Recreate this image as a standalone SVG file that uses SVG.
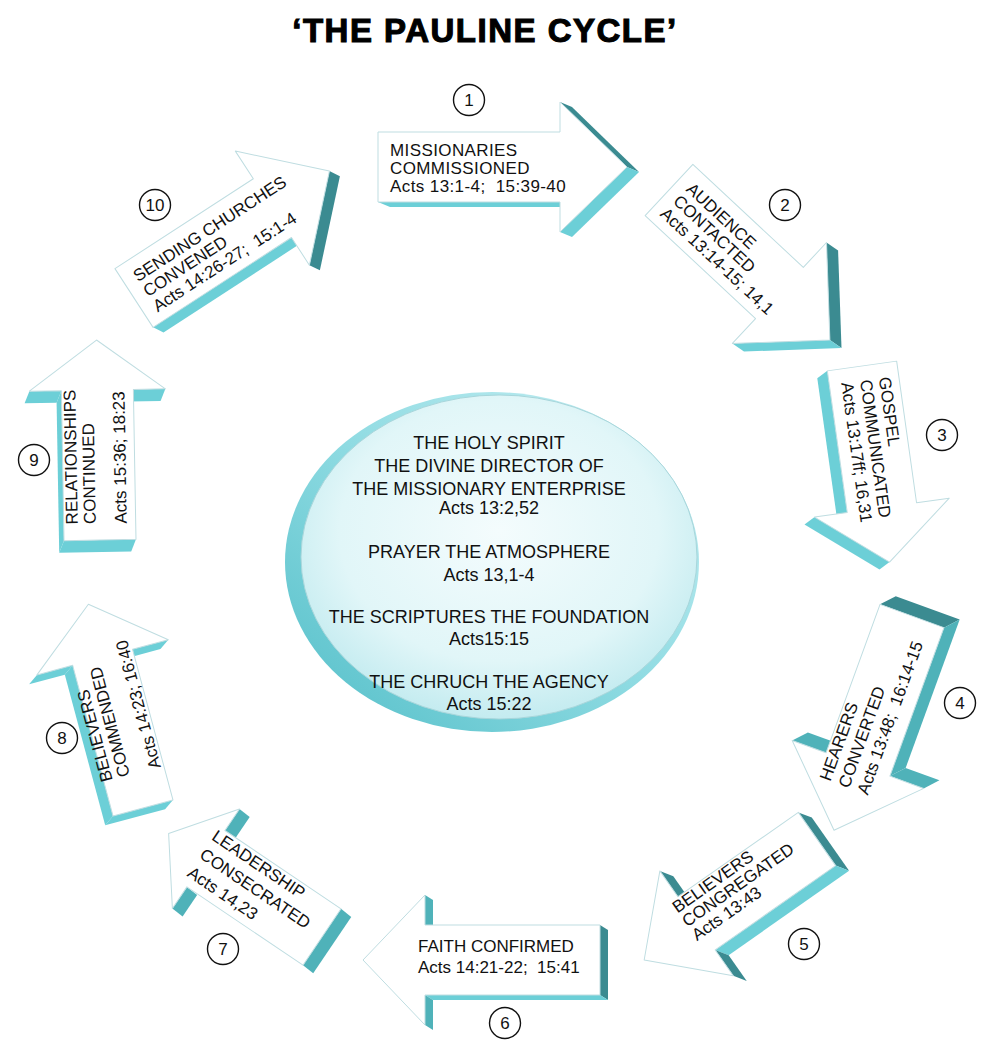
<svg xmlns="http://www.w3.org/2000/svg" width="981" height="1040" viewBox="0 0 981 1040">
<defs>
<linearGradient id="rim" x1="1" y1="0" x2="0" y2="1">
<stop offset="0" stop-color="#c9f0f4"/>
<stop offset="0.5" stop-color="#8fdbe2"/>
<stop offset="1" stop-color="#52bec8"/>
</linearGradient>
<radialGradient id="disc" cx="0.5" cy="0.42" r="0.62">
<stop offset="0" stop-color="#f4fcfd"/>
<stop offset="0.65" stop-color="#e1f6f8"/>
<stop offset="1" stop-color="#bde9ee"/>
</radialGradient>
</defs>
<style>
.face{fill:#ffffff;stroke:#bfdde1;stroke-width:1;stroke-linejoin:round}
.dk{fill:#3b8b91}
.md{fill:#4fb2b9}
.lt{fill:#6ccfd7}
.t{font-family:"Liberation Sans",Arial,sans-serif;font-size:17px;fill:#111}
.c{fill:#ffffff;stroke:#111;stroke-width:1.4}
.n{font-family:"Liberation Sans",Arial,sans-serif;font-size:17px;text-anchor:middle;fill:#111}
.ct{font-family:"Liberation Sans",Arial,sans-serif;font-size:18px;text-anchor:middle;fill:#111}
</style>
<rect width="981" height="1040" fill="#ffffff"/>
<text x="485" y="42" font-family="Liberation Sans, Arial, sans-serif" font-weight="bold" font-size="33" letter-spacing="1.5" text-anchor="middle" stroke="#000" stroke-width="1.1" fill="#000">‘THE PAULINE CYCLE’</text>

<g id="center">
<ellipse cx="492" cy="562" rx="207" ry="170" fill="url(#rim)"/>
<ellipse cx="499" cy="557" rx="198" ry="162" fill="url(#disc)" stroke="#a8d6db" stroke-width="1"/>
<text class="ct" x="489" y="449">THE HOLY SPIRIT</text>
<text class="ct" x="489" y="472">THE DIVINE DIRECTOR OF</text>
<text class="ct" x="489" y="495">THE MISSIONARY ENTERPRISE</text>
<text class="ct" x="489" y="514">Acts 13:2,52</text>
<text class="ct" x="489" y="558">PRAYER THE ATMOSPHERE</text>
<text class="ct" x="489" y="581">Acts 13,1-4</text>
<text class="ct" x="489" y="623">THE SCRIPTURES THE FOUNDATION</text>
<text class="ct" x="489" y="645">Acts15:15</text>
<text class="ct" x="489" y="688">THE CHRUCH THE AGENCY</text>
<text class="ct" x="489" y="710">Acts 15:22</text>
</g>

<g id="step1">
<g transform="translate(378,167)">
<polygon class="dk" points="182,-65 249,0 261,5 194,-60"/>
<polygon class="lt" points="249,0 182,65 194,70 261,5"/>
<polygon class="lt" points="182,35 0,35 12,40 194,40"/>
<polygon class="face" points="0,-35 182,-35 182,-65 249,0 182,65 182,35 0,35"/>
<text class="t" xml:space="preserve" letter-spacing="0.4"><tspan x="12" y="-11">MISSIONARIES</tspan><tspan x="12" y="7">COMMISSIONED</tspan><tspan x="12" y="25">Acts 13:1-4;  15:39-40</tspan></text>
</g>
<circle class="c" cx="469" cy="100" r="15.5"/><text class="n" x="469" y="106">1</text>
</g>

<g id="step2">
<g transform="translate(669,190) rotate(43)">
<polygon class="dk" points="151,-69 220,0 234,-2 165,-71"/>
<polygon class="lt" points="220,0 151,69 165,67 234,-2"/>
<polygon class="face" points="0,-35 151,-35 151,-69 220,0 151,69 151,35 0,35"/>
<text class="t"><tspan x="12" y="-11">AUDIENCE</tspan><tspan x="11" y="7">CONTACTED</tspan><tspan x="10" y="25">Acts 13:14-15; 14,1</tspan></text>
</g>
<circle class="c" cx="785" cy="205" r="15.5"/><text class="n" x="785" y="211">2</text>
</g>

<g id="step3">
<g transform="translate(862,366) rotate(82)">
<polygon class="lt" points="198,0 143,68 149,79 204,11"/>
<polygon class="lt" points="143,35 0,35 6,46 149,46"/>
<polygon class="face" points="0,-35 143,-35 143,-68 198,0 143,68 143,35 0,35"/>
<text class="t"><tspan x="14" y="-15">GOSPEL</tspan><tspan x="14" y="4">COMMUNICATED</tspan><tspan x="14" y="23">Acts 13:17ff; 16,31</tspan></text>
</g>
<circle class="c" cx="942" cy="435" r="15.5"/><text class="n" x="942" y="441">3</text>
</g>

<g id="step4">
<g transform="translate(912,616) rotate(110)">
<polygon class="dk" points="0,34 0,-34 -13,-46 -13,22"/>
<polygon class="md" points="0,-34 158,-34 145,-46 -13,-46"/>
<polygon class="md" points="158,-34 158,-70 145,-82 145,-46"/>
<polygon class="md" points="158,70 158,34 145,22 145,58"/>
<polygon class="face" points="0,-34 158,-34 158,-70 228,0 158,70 158,34 0,34"/>
<text class="t" transform="translate(184,20) rotate(180)" xml:space="preserve"><tspan x="0" y="0">HEARERS</tspan><tspan x="0" y="20">CONVERTED</tspan><tspan x="0" y="40">Acts 13:48;  16:14-15</tspan></text>
</g>
<circle class="c" cx="960" cy="703" r="15.5"/><text class="n" x="960" y="709">4</text>
</g>

<g id="step5">
<g transform="translate(817,839) rotate(145)">
<polygon class="dk" points="0,32.5 0,-32.5 -8,-44.5 -8,20.5"/>
<polygon class="lt" points="0,-32.5 147,-32.5 139,-44.5 -8,-44.5"/>
<polygon class="dk" points="147,-32.5 147,-64 139,-76 139,-44.5"/>
<polygon class="dk" points="147,64 147,32.5 139,20.5 139,52"/>
<polygon class="face" points="0,-32.5 147,-32.5 147,-64 211,0 147,64 147,32.5 0,32.5"/>
<text class="t" transform="translate(157,19) rotate(180)"><tspan x="0" y="0">BELIEVERS</tspan><tspan x="0" y="17">CONGREGATED</tspan><tspan x="0" y="34">Acts 13:43</tspan></text>
</g>
<circle class="c" cx="804" cy="944" r="15.5"/><text class="n" x="804" y="950">5</text>
</g>

<g id="step6">
<g transform="translate(600,960) rotate(180)">
<polygon class="dk" points="0,35 0,-35 -8,-40 -8,30"/>
<polygon class="lt" points="0,-35 175,-35 167,-40 -8,-40"/>
<polygon class="md" points="175,-35 175,-65 167,-70 167,-40"/>
<polygon class="md" points="175,65 175,35 167,30 167,60"/>
<polygon class="face" points="0,-35 175,-35 175,-65 237,0 175,65 175,35 0,35"/>
<text class="t" transform="translate(182,8) rotate(180)" xml:space="preserve" font-size="17.5"><tspan x="0" y="0">FAITH CONFIRMED</tspan><tspan x="0" y="21">Acts 14:21-22;  15:41</tspan></text>
</g>
<circle class="c" cx="505" cy="1023" r="15.5"/><text class="n" x="505" y="1029">6</text>
</g>

<g id="step7">
<g transform="translate(322,937) rotate(214)">
<polygon class="md" points="0,34 0,-34 -13,-35 -13,33"/>
<polygon class="md" points="140,-34 140,-60 127,-61 127,-35"/>
<polygon class="md" points="140,60 140,34 127,33 127,59"/>
<polygon class="face" points="0,-34 140,-34 140,-60 185,0 140,60 140,34 0,34"/>
<text class="t" transform="translate(147,19) rotate(180)"><tspan x="0" y="0">LEADERSHIP</tspan><tspan x="0" y="22">CONSECRATED</tspan><tspan x="0" y="44">Acts 14,23</tspan></text>
</g>
<circle class="c" cx="223" cy="949" r="15.5"/><text class="n" x="223" y="955">7</text>
</g>

<g id="step8">
<g transform="translate(143,808) rotate(-105)">
<polygon class="lt" points="0,31 0,-31 -7,-41 -7,21"/>
<polygon class="lt" points="0,-31 156,-31 149,-41 -7,-41"/>
<polygon class="lt" points="156,-31 156,-68 149,-78 149,-41"/>
<polygon class="lt" points="156,68 156,31 149,21 149,58"/>
<polygon class="face" points="0,-31 156,-31 156,-68 211,0 156,68 156,31 0,31"/>
<text class="t"><tspan x="35" y="-22">BELIEVERS</tspan><tspan x="35" y="-4">COMMENDED</tspan><tspan x="35" y="28">Acts 14:23; 16:40</tspan></text>
</g>
<circle class="c" cx="62" cy="738" r="15.5"/><text class="n" x="62" y="744">8</text>
</g>

<g id="step9">
<g transform="translate(100,540) rotate(-91)">
<polygon class="lt" points="0,36 0,-36 -12,-41 -12,31"/>
<polygon class="lt" points="0,-36 150,-36 138,-41 -12,-41"/>
<polygon class="lt" points="150,-36 150,-68 138,-73 138,-41"/>
<polygon class="lt" points="150,68 150,36 138,31 138,63"/>
<polygon class="face" points="0,-36 150,-36 150,-68 200,0 150,68 150,36 0,36"/>
<text class="t"><tspan x="16" y="-22">RELATIONSHIPS</tspan><tspan x="16" y="-4">CONTINUED</tspan><tspan x="16" y="27">Acts 15:36; 18:23</tspan></text>
</g>
<circle class="c" cx="34" cy="460" r="15.5"/><text class="n" x="34" y="466">9</text>
</g>

<g id="step10">
<g transform="translate(134,298) rotate(-33)">
<polygon class="dk" points="233,0 165,68 171,78 239,10"/>
<polygon class="lt" points="165,35 0,35 6,45 171,45"/>
<polygon class="face" points="0,-35 165,-35 165,-68 233,0 165,68 165,35 0,35"/>
<text class="t" xml:space="preserve"><tspan x="12" y="-11">SENDING CHURCHES</tspan><tspan x="12" y="7">CONVENED</tspan><tspan x="12" y="25">Acts 14:26-27;  15:1-4</tspan></text>
</g>
<circle class="c" cx="155" cy="205" r="15.5"/><text class="n" x="155" y="211">10</text>
</g>
</svg>
